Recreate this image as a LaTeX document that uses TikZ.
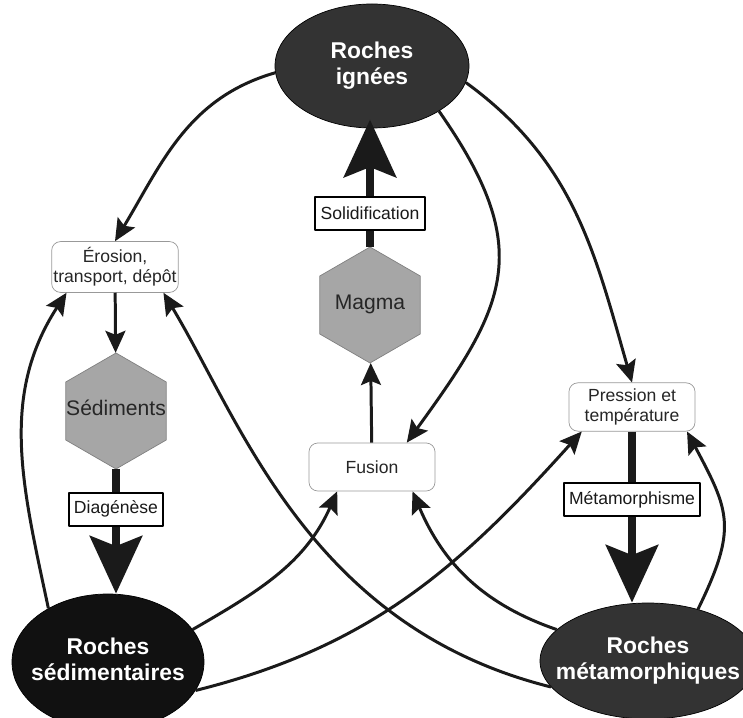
\documentclass[tikz,border=0pt]{standalone}
\usepackage{fontspec}
\setmainfont{Liberation Sans}
\usetikzlibrary{shapes.geometric,arrows.meta}
\definecolor{rockdark}{HTML}{333333}
\definecolor{rockblack}{HTML}{111111}
\definecolor{hexgray}{HTML}{A6A6A6}
\definecolor{inkline}{HTML}{1A1A1A}
% texte centre sans largeur (la forme garde sa taille)
\newcommand\nowidth[1]{\makebox[0pt]{\begin{tabular}{@{}c@{}}#1\end{tabular}}}

\begin{document}
\begin{tikzpicture}[line join=round,
	rock/.style={ellipse, draw=black, fill=rockdark, text=white, inner sep=0pt, font=\bfseries\fontsize{13}{15}\selectfont},
	phase/.style={regular polygon, regular polygon sides=6, shape border rotate=30, minimum size=2.32cm, inner sep=0pt, draw=gray, fill=hexgray, text=black!85, font=\fontsize{12}{14}\selectfont},
	process/.style={rectangle, rounded corners=5pt, draw=gray!80, fill=white, align=center, minimum width=2.52cm, minimum height=0.96cm, inner xsep=1pt, text=black!85, font=\fontsize{10}{11.5}\selectfont},
	tag/.style={rectangle, draw=black, line width=1.1pt, fill=white, minimum height=0.66cm, inner xsep=3pt, text=black!90, font=\fontsize{10}{12}\selectfont},
	link/.style={draw=inkline, line width=1.7pt, -{Stealth[length=0.44cm, width=0.4cm, inset=0.08cm]}},
	flow/.style={draw=inkline, line width=5pt, -{Stealth[length=1.15cm, width=1.04cm, inset=0.2cm]}}]
	\useasboundingbox (0,0) rectangle (14.86,14.34);
	% roches
	\node[rock, minimum width=3.88cm, minimum height=2.48cm] (ign) at (7.44,13.02) {\nowidth{Roches\\ignées}};
	\node[rock, fill=rockblack, minimum width=3.84cm, minimum height=2.72cm] (rsed) at (2.16,1.10) {\nowidth{Roches\\sédimentaires}};
	\node[rock, minimum width=4.32cm, minimum height=2.32cm] (rmet) at (12.96,1.12) {\nowidth{Roches\\métamorphiques}};
	% processus et phases
	\node[process] (ero) at (2.30,9.00) {Érosion,\\transport, dépôt};
	\node[phase] (sed) at (2.32,6.12) {\nowidth{Sédiments}};
	\node[phase] (mag) at (7.40,8.24) {\nowidth{Magma}};
	\node[process] (fus) at (7.44,5.00) {Fusion};
	\node[process] (pre) at (12.64,6.20) {Pression et\\température};
	% grandes fleches
	\draw[flow] (mag.north) -- node[tag, pos=0.26] (sol) {Solidification} ([yshift=5pt]mag.north |- ign.south);
	\draw[flow] (sed.south) -- node[tag, pos=0.32] (dia) {Diagénèse} (sed.south |- rsed.north);
	\draw[flow] (pre.south) -- node[tag, pos=0.40] (mtm) {Métamorphisme} (pre.south |- rmet.north);
	% liens
	\draw[link] (ero) -- (sed);
	\draw[link] (fus) -- (mag);
	\foreach \from/\to/\o/\i/\l in {ign.184/ero.north/196/59/1, ign.-34/fus.35/305/54/1.3,
		ign.-10/pre.north/-36/106/1, rsed.138/ero.208/102/237/1, rsed.21/fus.215/30/246/1,
		rsed.-18/pre.206/14/228/1, rmet.161/fus.-31/161/293/1, rmet.46/pre.-24/64/298/1.3}
	\draw[link] (\from) to[out=\o, in=\i, looseness=\l] (\to);
	\draw[link] (rmet.195) to[out=166, in=301, out looseness=1.15, in looseness=0.7] (ero.-28);
\end{tikzpicture}
\end{document}
